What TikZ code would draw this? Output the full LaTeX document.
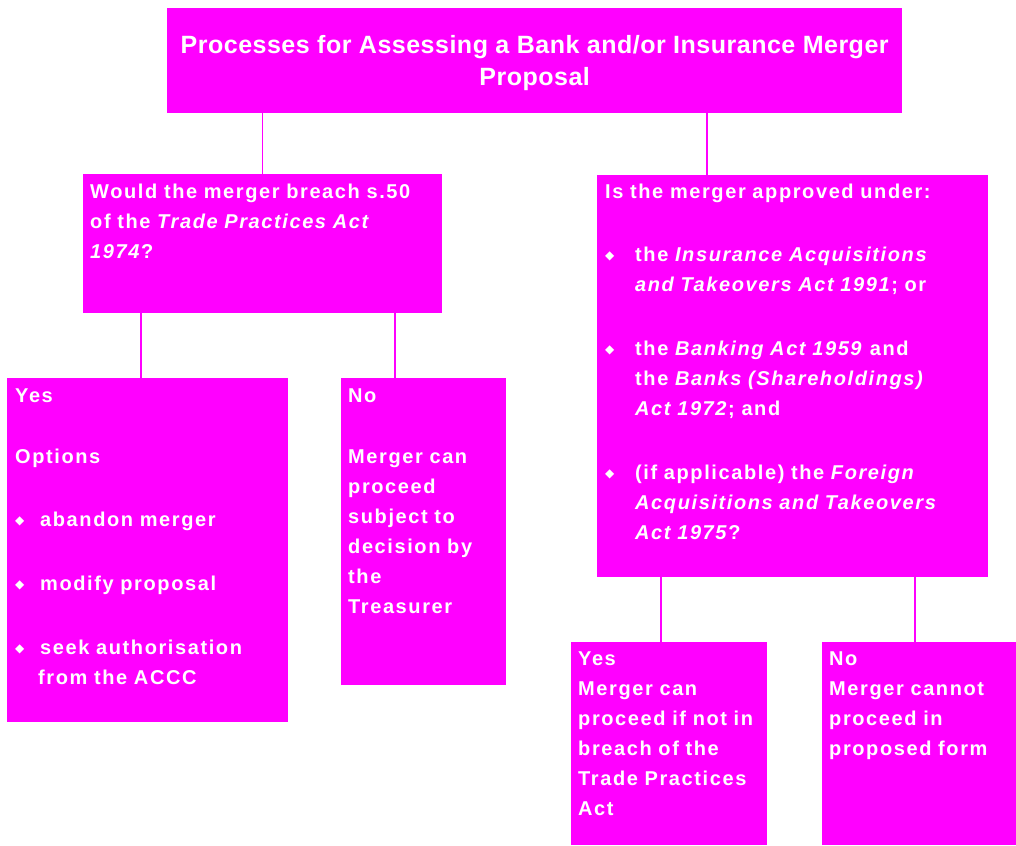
\documentclass[tikz,border=0pt]{standalone}
\usepackage{fontspec}
\setmainfont{Liberation Sans}[LetterSpace=8,BoldFeatures={WordSpace=1.5}]
\newfontfamily\headfont{Liberation Sans}[LetterSpace=2]
\newfontfamily\dingfont{DejaVu Sans}
\definecolor{mergepink}{RGB}{255,0,255}
\newcommand{\dia}[1]{\makebox[#1][l]{\raisebox{1.5pt}{\dingfont\fontsize{12}{12}\selectfont ◆}}}
\newcommand{\ind}[1]{\hspace*{#1}}

\begin{document}
\begin{tikzpicture}[x=1pt,y=-1pt,
        card/.style={fill=mergepink,draw=none,anchor=north west,inner sep=0pt},
        words/.style={text=white,anchor=north west,align=left,inner sep=0pt,
            font=\fontsize{20}{30}\selectfont\bfseries},
        link/.style={draw=mergepink,line width=1.2pt}]
    \useasboundingbox[fill=white] (0,0) rectangle (1016,845);
    \node[card,minimum width=735,minimum height=105] (title) at (167,8) {};
    \node[text=white,align=center,inner sep=0pt,
        font=\headfont\fontsize{25}{32}\selectfont\bfseries] (titletext) at ([yshift=-2]title.center)
        {Processes for Assessing a Bank and/or Insurance Merger\\Proposal};
    \node[card,minimum width=359,minimum height=139] (qone) at (83,174) {};
    \node[card,minimum width=391,minimum height=402] (qtwo) at (597,175) {};
    \node[card,minimum width=281,minimum height=344] (yesone) at (7,378) {};
    \node[card,minimum width=165,minimum height=307] (noone) at (341,378) {};
    \node[card,minimum width=196,minimum height=203] (yestwo) at (571,642) {};
    \node[card,minimum width=194,minimum height=203] (notwo) at (822,642) {};

    \node[words,text width=350] (qonetext) at ([shift={(7,9.5)}]qone.north west)
        {Would the merger breach s.50\\of the \textit{Trade Practices Act}\\\textit{1974}?};
    \node[words,text width=385] (qtwotext) at ([shift={(8,8.5)}]qtwo.north west)
        {Is the merger approved under:\\[33pt]
        \dia{30pt}the \textit{Insurance Acquisitions}\\
        \ind{30pt}\textit{and Takeovers Act 1991}; or\\[34pt]
        \dia{30pt}the \textit{Banking Act 1959} and\\
        \ind{30pt}the \textit{Banks (Shareholdings)}\\
        \ind{30pt}\textit{Act 1972}; and\\[34pt]
        \dia{30pt}(if applicable) the \textit{Foreign}\\
        \ind{30pt}\textit{Acquisitions and Takeovers}\\
        \ind{30pt}\textit{Act 1975}?};
    \node[words,text width=275] (yesonetext) at ([shift={(8,10.5)}]yesone.north west)
        {Yes\\[31pt]
        Options\\[33pt]
        \dia{25pt}abandon merger\\[34pt]
        \dia{25pt}modify proposal\\[34pt]
        \dia{25pt}seek authorisation\\
        \ind{23pt}from the ACCC};
    \node[words,text width=160] (noonetext) at ([shift={(7,10.5)}]noone.north west)
        {No\\[31pt]
        Merger can\\proceed\\subject to\\decision by\\the\\Treasurer};
    \node[words,text width=192] (yestwotext) at ([shift={(7,10)}]yestwo.north west)
        {Yes\\Merger can\\proceed if not in\\breach of the\\Trade Practices\\Act};
    \node[words,text width=190] (notwotext) at ([shift={(7,10)}]notwo.north west)
        {No\\Merger cannot\\proceed in\\proposed form};

    \draw[link] (title.south -| qone.north) -- (qone.north);
    \draw[link] ([xshift=110]qtwo.north west |- title.south) -- ([xshift=110]qtwo.north west);
    \draw[link] ([xshift=134]yesone.north west |- qone.south) -- ([xshift=134]yesone.north west);
    \draw[link] ([xshift=54]noone.north west |- qone.south) -- ([xshift=54]noone.north west);
    \draw[link] ([xshift=90]yestwo.north west |- qtwo.south) -- ([xshift=90]yestwo.north west);
    \draw[link] ([xshift=93]notwo.north west |- qtwo.south) -- ([xshift=93]notwo.north west);
\end{tikzpicture}
\end{document}
